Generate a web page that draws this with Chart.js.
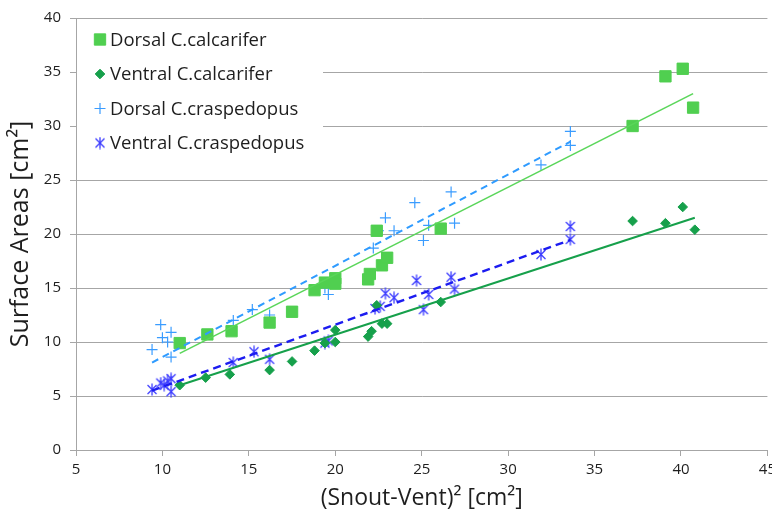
<!doctype html>
<html>
<head>
    <title>Surface Areas</title>
    <meta charset="utf-8">
    <style>
        html, body {
            background: #fff;
            margin: 0;
            overflow: hidden;
            padding: 0;
        }

        /* a little wider than the window so the "45" label is cut at the edge, as in the original */
        .chart {
            height: 515px;
            position: relative;
            width: 781px;
        }
    </style>
    <script src="https://cdn.jsdelivr.net/npm/chart.js@4.4.0/dist/chart.umd.min.js"></script>
</head>
<body>
<div class="chart"><canvas id="chart"></canvas></div>
<script>
    "use strict";

    // series names (legend order)
    const seriesNames = [
        "Dorsal C.calcarifer",
        "Ventral C.calcarifer",
        "Dorsal C.craspedopus",
        "Ventral C.craspedopus",
    ];

    // x ticks / y ticks
    const xTicks = [5, 10, 15, 20, 25, 30, 35, 40, 45];
    const yTicks = [0, 5, 10, 15, 20, 25, 30, 35, 40];

    // Dorsal C.calcarifer
    const dorsalCalX = [11.0, 12.6, 14.0, 16.2, 17.5, 18.8, 19.4, 20.0, 20.0, 21.9, 22.0, 22.4, 22.7, 23.0, 26.1, 37.2, 39.1, 40.1, 40.7];
    const dorsalCalY = [9.9, 10.7, 11.0, 11.8, 12.8, 14.8, 15.5, 15.9, 15.4, 15.8, 16.3, 20.3, 17.1, 17.8, 20.5, 30.0, 34.6, 35.3, 31.7];

    // Ventral C.calcarifer
    const ventralCalX = [11.0, 12.5, 13.9, 16.2, 17.5, 18.8, 19.4, 20.0, 20.0, 21.9, 22.1, 22.4, 22.7, 23.0, 26.1, 37.2, 39.1, 40.1, 40.8];
    const ventralCalY = [6.0, 6.7, 7.0, 7.4, 8.2, 9.2, 9.9, 11.1, 10.0, 10.5, 11.0, 13.4, 11.7, 11.7, 13.7, 21.2, 21.0, 22.5, 20.4];

    // Dorsal C.craspedopus
    const dorsalCraX = [9.4, 9.9, 10.0, 10.3, 10.5, 10.5, 14.1, 15.2, 16.2, 19.4, 19.6, 22.2, 22.5, 22.9, 23.4, 24.6, 25.1, 25.4, 26.7, 26.9, 31.9, 33.6, 33.6];
    const dorsalCraY = [9.3, 11.6, 10.4, 10.0, 10.9, 8.6, 12.0, 13.0, 12.5, 15.0, 14.4, 18.7, 20.3, 21.5, 20.3, 22.9, 19.4, 20.8, 23.9, 21.0, 26.4, 29.5, 28.2];

    // Ventral C.craspedopus
    const ventralCraX = [9.4, 9.9, 10.1, 10.3, 10.5, 10.5, 14.1, 15.3, 16.2, 19.4, 19.6, 22.3, 22.6, 22.9, 23.4, 24.7, 25.1, 25.4, 26.7, 26.9, 31.9, 33.6, 33.6];
    const ventralCraY = [5.6, 6.2, 6.0, 6.4, 6.6, 5.4, 8.1, 9.1, 8.4, 9.9, 10.1, 13.1, 13.3, 14.5, 14.1, 15.7, 13.0, 14.4, 16.0, 14.9, 18.1, 20.7, 19.5];

    // linear trendline end points
    const trendDorsalCalX = [11.0, 40.7];
    const trendDorsalCalY = [8.95, 33.0];
    const trendVentralCalX = [11.0, 40.8];
    const trendVentralCalY = [6.0, 21.5];
    const trendDorsalCraX = [9.4, 33.6];
    const trendDorsalCraY = [8.1, 28.55];
    const trendVentralCraX = [9.4, 33.6];
    const trendVentralCraY = [5.5, 19.45];

    function points(xs, ys) {
        return xs.map((x, i) => ({x: x, y: ys[i]}));
    }

    // Excel style asterisk: an X with a vertical bar
    function asterisk(color) {
        let c = document.createElement("canvas");
        c.width = 12;
        c.height = 13;
        let g = c.getContext("2d");
        g.strokeStyle = color;
        g.lineWidth = 1.3;
        g.beginPath();
        g.moveTo(1.5, 2);
        g.lineTo(10.5, 11);
        g.moveTo(10.5, 2);
        g.lineTo(1.5, 11);
        g.moveTo(6, 0.5);
        g.lineTo(6, 12.5);
        g.stroke();
        return c;
    }

    let gridColor = "#a6a6a6";
    let textColor = "#1e1e1e";
    let font = "'Open Sans', 'Noto Sans', sans-serif";

    let markers = [
        {style: "rect", radius: 8, fill: "#50cf50", stroke: "#50cf50", width: 1},
        {style: "rectRot", radius: 4.8, fill: "#16a04b", stroke: "#16a04b", width: 1},
        {style: "cross", radius: 5.5, fill: "#3a9cff", stroke: "#3a9cff", width: 1.2},
        {style: asterisk("#3c3cff"), radius: 6, fill: "#3c3cff", stroke: "#3c3cff", width: 1},
    ];

    let series = [
        points(dorsalCalX, dorsalCalY),
        points(ventralCalX, ventralCalY),
        points(dorsalCraX, dorsalCraY),
        points(ventralCraX, ventralCraY),
    ];

    let datasets = [
        {data: points(trendDorsalCalX, trendDorsalCalY), color: "#5ad65a", width: 1.6, dash: []},
        {data: points(trendVentralCalX, trendVentralCalY), color: "#16a04b", width: 2, dash: []},
        {data: points(trendDorsalCraX, trendDorsalCraY), color: "#2f9bff", width: 2, dash: [7, 5]},
        {data: points(trendVentralCraX, trendVentralCraY), color: "#1c1cf0", width: 2.4, dash: [8, 5]},
    ].map(t => ({
        borderColor: t.color,
        borderDash: t.dash,
        borderWidth: t.width,
        data: t.data,
        label: "",
        order: 0,
        pointRadius: 0,
        showLine: true,
    }));

    for (let i = 0; i < series.length; i++) {
        datasets.push({
            backgroundColor: markers[i].fill,
            borderColor: markers[i].stroke,
            borderWidth: markers[i].width,
            data: series[i],
            label: seriesNames[i],
            order: 1,
            pointBorderWidth: markers[i].width,
            pointRadius: markers[i].radius,
            pointStyle: markers[i].style,
        });
    }

    // legend sits inside the plot, top left, on a white box
    let insideLegend = {
        id: "insideLegend",
        afterDatasetsDraw(chart) {
            let ctx = chart.ctx;
            let left = chart.chartArea.left;
            let rows = [39.5, 74, 108.5, 143];
            ctx.save();
            ctx.fillStyle = "#fff";
            ctx.fillRect(left + 1, 20, 246, 140);
            ctx.font = "18.5px " + font;
            ctx.textBaseline = "middle";
            ctx.textAlign = "left";
            for (let i = 0; i < seriesNames.length; i++) {
                let m = markers[i];
                ctx.fillStyle = m.fill;
                ctx.strokeStyle = m.stroke;
                ctx.lineWidth = m.width;
                Chart.helpers.drawPoint(ctx, {
                    borderWidth: m.width,
                    pointStyle: m.style,
                    radius: m.radius,
                    rotation: 0,
                }, 100, rows[i]);
                ctx.fillStyle = textColor;
                ctx.fillText(seriesNames[i], 110, rows[i] + 1);
            }
            ctx.restore();
        },
    };

    new Chart(document.getElementById("chart"), {
        type: "scatter",
        data: {datasets: datasets},
        options: {
            animation: false,
            devicePixelRatio: 1,
            layout: {padding: {top: 18, right: 1, bottom: 0, left: 0}},
            maintainAspectRatio: false,
            plugins: {
                legend: {display: false},
                tooltip: {enabled: false},
            },
            responsive: true,
            scales: {
                x: {
                    afterBuildTicks(scale) {
                        scale.ticks = xTicks.map(v => ({value: v}));
                    },
                    afterFit(scale) {
                        scale.height = 65;
                    },
                    border: {color: gridColor, width: 1},
                    grid: {color: gridColor, drawOnChartArea: false, tickLength: 6},
                    max: 45,
                    min: 5,
                    ticks: {color: textColor, font: {family: font, size: 15}, maxRotation: 0, padding: 5},
                    title: {
                        color: textColor,
                        display: true,
                        font: {family: font, size: 23},
                        padding: {top: 0, bottom: 3},
                        text: "(Snout-Vent)² [cm²]",
                    },
                    type: "linear",
                },
                y: {
                    afterBuildTicks(scale) {
                        scale.ticks = yTicks.map(v => ({value: v}));
                    },
                    afterFit(scale) {
                        scale.width = 76;
                    },
                    border: {color: gridColor, width: 1},
                    grid: {color: gridColor, tickLength: 6},
                    max: 40,
                    min: 0,
                    ticks: {color: textColor, font: {family: font, size: 15}, padding: 9},
                    title: {
                        color: textColor,
                        display: true,
                        font: {family: font, size: 25},
                        padding: {top: 6, bottom: 0},
                        text: "Surface Areas [cm²]",
                    },
                },
            },
        },
        plugins: [insideLegend],
    });
</script>
</body>
</html>
